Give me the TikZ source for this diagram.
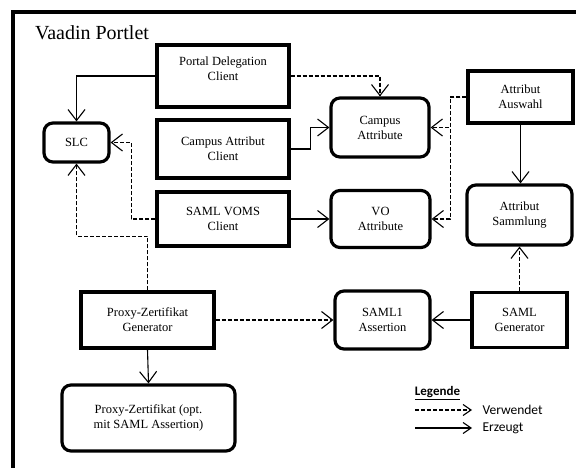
\documentclass[tikz,border=0pt]{standalone}
\usepackage{fontspec}
\setmainfont{Liberation Serif}
\newfontfamily\legendfont{Carlito}
\usetikzlibrary{arrows.meta}

\begin{document}
\begin{tikzpicture}[x=1pt, y=-1pt, font=\fontsize{12.5}{15}\selectfont,
    comp/.style={draw, line width=3.2pt, align=center, inner sep=0pt},
    data/.style={comp, rounded corners=9pt},
    uses/.style={dash pattern=on 4pt off 2pt, line width=1.1pt, -{Straight Barb[length=11pt,width=17pt]}},
    makes/.style={line width=1.1pt, -{Straight Barb[length=11pt,width=17pt]}}]
    \useasboundingbox (0,0) rectangle (576,468);
    \draw[line width=3.5pt] (13,470) -- (13,12) -- (578,12);
    \node (title) at (92,33) {\fontsize{20}{24}\selectfont Vaadin Portlet};

    \node (pdc) [comp, minimum width=132, minimum height=62] at (223,76) {Portal Delegation\\Client\\[-4pt]\strut};
    \node (cac) [comp, minimum width=132, minimum height=58] at (223,149) {Campus Attribut\\Client};
    \node (svc) [comp, minimum width=132, minimum height=54] at (223,219) {SAML VOMS\\Client};
    \node (slc) [data, minimum width=65, minimum height=39] at (76.5,142.5) {SLC};
    \node (ca) [data, minimum width=98, minimum height=59] at (380,127.5) {Campus\\Attribute};
    \node (vo) [data, minimum width=99, minimum height=57] at (380.5,219) {VO\\Attribute};
    \node (aa) [comp, minimum width=105, minimum height=52] at (520.5,97) {Attribut\\Auswahl};
    \node (as) [data, minimum width=105, minimum height=60] at (519.5,215) {Attribut\\Sammlung};
    \node (pzg) [comp, minimum width=133, minimum height=56] at (147.5,320) {Proxy-Zertifikat\\Generator};
    \node (s1) [data, minimum width=95, minimum height=58] at (382.5,320) {SAML1\\Assertion};
    \node (sg) [comp, minimum width=95, minimum height=55] at (519.5,320) {SAML\\Generator};
    \node (pz) [data, minimum width=173, minimum height=66] at (148.5,418) {Proxy-Zertifikat (opt.\\mit SAML Assertion)};

    \draw[makes] (pdc.west) -| (slc.north);
    \draw[uses] (pdc.east) -| (ca.north);
    \draw[makes] (cac.east) -- ++(20,0) |- (ca.west);
    \draw[makes] (svc.east) -- (vo.west);
    \draw[uses] (svc.west) -- ++(-24,0) |- (slc.east);
    \draw[uses] (pzg.north) -- ++(0,-54) -| (slc.south);
    \draw[uses] (aa.west) -- ++(-16,0) |- (ca.east);
    \draw[uses] (aa.west) -- ++(-16,0) |- (vo.east);
    \draw[makes] (aa.south) -- (aa.south |- as.north);
    \draw[uses] (sg.north) -- (as.south);
    \draw[makes] (sg.west) -- (s1.east);
    \draw[uses] (pzg.east) -- (s1.west);
    \draw[makes] (pzg.south) -- (pz.north);

    % Legende
    \node (leg) at (437.5,393) {\legendfont\fontsize{13}{15}\selectfont\bfseries\underline{Legende}};
    \coordinate (u1) at (415,410);
    \coordinate (u2) at (472,410);
    \coordinate (m1) at (415,428);
    \coordinate (m2) at (472,428);
    \draw[uses, -{Straight Barb[length=8pt,width=11pt]}] (u1) -- (u2);
    \draw[makes, -{Straight Barb[length=8pt,width=11pt]}] (m1) -- (m2);
    \node (verw) [anchor=west] at (479,410) {\legendfont\fontsize{13.5}{15}\selectfont Verwendet};
    \node (erz) [anchor=west] at (479,428) {\legendfont\fontsize{13.5}{15}\selectfont Erzeugt};
\end{tikzpicture}
\end{document}
